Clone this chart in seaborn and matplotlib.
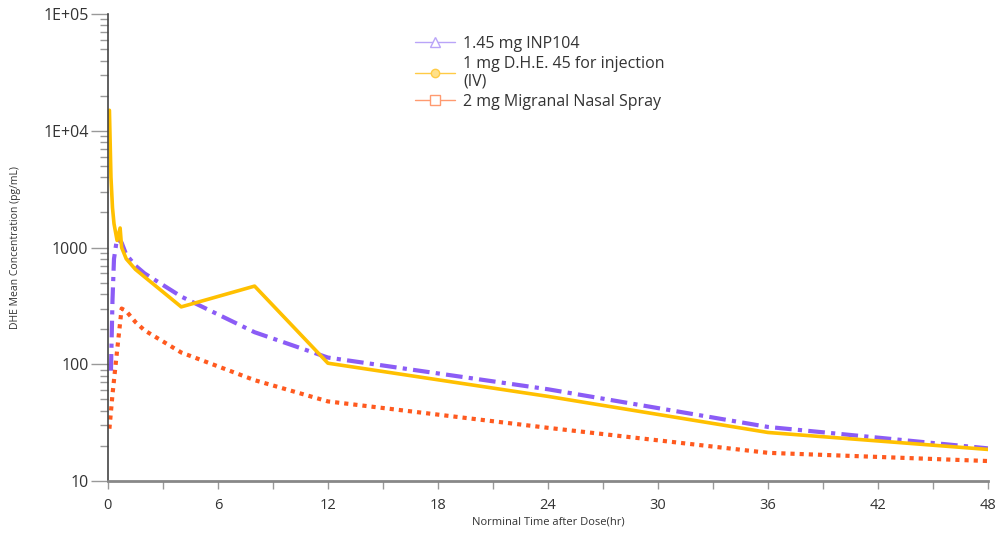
import numpy as np
import pandas as pd
import matplotlib
matplotlib.use("Agg")
import matplotlib.pyplot as plt
import matplotlib.ticker as mticker
from matplotlib.lines import Line2D
import seaborn as sns

# Mean concentration-time data
inp_time = [0.167, 0.25, 0.333, 0.5, 0.75, 1, 1.5, 2, 4, 8, 12, 24, 36, 48]
inp_conc = [88, 350, 800, 1200, 1100, 870, 700, 600, 380, 188, 114, 61, 29, 19]

dhe_time = [0.083, 0.167, 0.25, 0.333, 0.5, 0.667, 0.75, 1, 1.5, 2, 4, 8, 12, 24, 36, 48]
dhe_conc = [15000, 4000, 2200, 1600, 1150, 1470, 1000, 800, 650, 560, 310, 467, 102, 53, 26, 18.6]

mig_time = [0.083, 0.25, 0.5, 0.75, 1, 1.5, 2, 4, 8, 12, 24, 36, 48]
mig_conc = [28, 55, 130, 300, 285, 230, 195, 126, 73, 48, 28.5, 17.4, 14.8]

labels = ["1.45 mg INP104", "1 mg D.H.E. 45 for injection\n(IV)", "2 mg Migranal Nasal Spray"]
y_ticks = [10, 100, 1000, 10000, 100000]
y_ticklabels = ["10", "100", "1000", "1E+04", "1E+05"]
x_ticks = [0, 6, 12, 18, 24, 30, 36, 42, 48]

sns.set_theme(style="white")
plt.rcParams['font.family'] = ['Open Sans', 'DejaVu Sans']

fig = plt.figure(figsize=(9.99, 5.44), dpi=100)
ax = fig.add_axes([0.108, 0.116, 0.881, 0.858])

c_inp = "#8B5CF6"
c_dhe = "#FFC000"
c_mig = "#FF5A1F"

sns.lineplot(x=inp_time, y=inp_conc, ax=ax, color=c_inp, lw=3,
             linestyle=(0, (4, 1.5, 1, 1.5)))
sns.lineplot(x=dhe_time, y=dhe_conc, ax=ax, color=c_dhe, lw=2.6)
sns.lineplot(x=mig_time, y=mig_conc, ax=ax, color=c_mig, lw=3,
             linestyle=(0, (1, 1.2)))

ax.set_yscale("log")
ax.set_ylim(10, 100000)
ax.set_xlim(0, 48)
ax.set_yticks(y_ticks)
ax.set_yticklabels(y_ticklabels)
ax.yaxis.set_minor_locator(mticker.LogLocator(base=10, subs=np.arange(2, 10)))
ax.yaxis.set_minor_formatter(mticker.NullFormatter())
ax.set_xticks(x_ticks)
ax.set_xticks([3, 9, 15, 21, 27, 33, 39, 45], minor=True)

ax.tick_params(axis="y", which="major", direction="out", length=12, width=1,
               color="#999999", labelsize=11.5, labelcolor="#333333", left=True, pad=2)
ax.tick_params(axis="y", which="minor", direction="out", length=6, width=1,
               color="#999999", left=True)
ax.tick_params(axis="x", which="major", direction="out", length=6, width=1,
               color="#999999", labelsize=10.5, labelcolor="#333333", bottom=True, pad=6)
ax.tick_params(axis="x", which="minor", direction="out", length=6, width=1,
               color="#999999", bottom=True)

for s in ["top", "right"]:
    ax.spines[s].set_visible(False)
ax.spines["left"].set_color("#444444")
ax.spines["left"].set_linewidth(1.2)
ax.spines["bottom"].set_color("#888888")
ax.spines["bottom"].set_linewidth(2)

ax.set_ylabel("DHE Mean Concentration (pg/mL)", fontsize=7.5, color="#333333",
              labelpad=16)
ax.set_xlabel("Norminal Time after Dose(hr)", fontsize=8, color="#333333",
              labelpad=3)

handles = [
    Line2D([0], [0], color="#B9A4F8", lw=1, marker="^", markersize=7,
           markerfacecolor="white", markeredgecolor="#B9A4F8"),
    Line2D([0], [0], color="#FFCB45", lw=1, marker="o", markersize=6,
           markerfacecolor="#FFE08A", markeredgecolor="#FFCB45"),
    Line2D([0], [0], color="#FF9A70", lw=1, marker="s", markersize=7,
           markerfacecolor="white", markeredgecolor="#FF9A70"),
]
leg = ax.legend(handles, labels, loc="upper left", bbox_to_anchor=(0.333, 0.985),
                frameon=False, fontsize=11.5, handlelength=2.5, handletextpad=0.5,
                labelspacing=0.25)
for t in leg.get_texts():
    t.set_color("#333333")

fig.savefig("out.png", dpi=100)
